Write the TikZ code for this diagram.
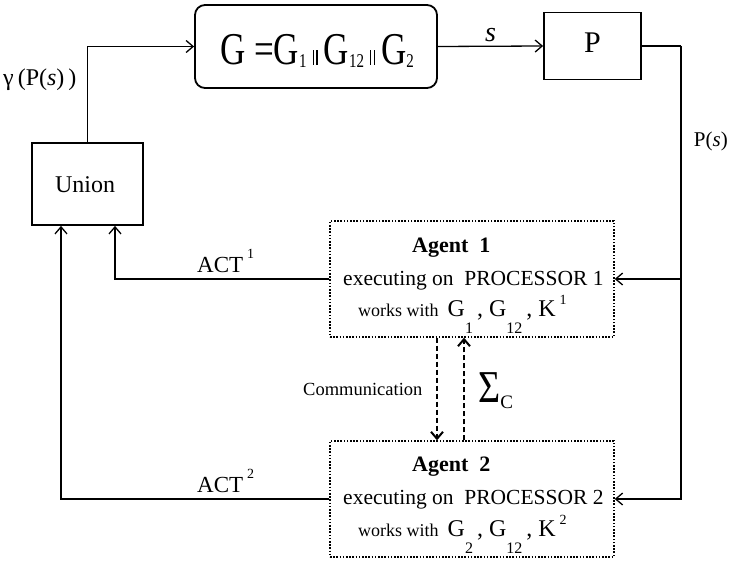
\documentclass[tikz,border=0pt]{standalone}
\usepackage{fontspec}
\setmainfont{Liberation Serif}
\usetikzlibrary{arrows.meta}
\newcommand\fs[1]{\fontsize{#1}{#1}\selectfont}
\newcommand\dn[3]{\raisebox{-#1}{\fs{#2}#3}}
\newcommand\up[3]{\raisebox{#1}{\fs{#2}#3}}
\newcommand\parbar{\hspace{6pt}\rule{1.3pt}{11.5pt}\hspace{2.4pt}\rule{1.3pt}{11.5pt}\hspace{6pt}}
\begin{document}
\begin{tikzpicture}[x=1pt,y=-1pt,
  >={Straight Barb[length=7pt,width=12pt]},
  solidbox/.style={draw,line width=1.8pt,inner sep=0pt},
  agentbox/.style={draw,line width=1.4pt,dash pattern=on 1.6pt off 1.6pt,
                   minimum width=284pt,minimum height=116pt,inner sep=0pt},
  wire/.style={line width=1.3pt},
  commwire/.style={line width=2pt,dash pattern=on 5pt off 3pt},
  txt/.style={inner sep=0pt}]
\useasboundingbox (0,0) rectangle (730,564);

% main blocks
\node[solidbox,rounded corners=10pt,minimum width=242pt,minimum height=83pt] (G) at (316,46.5) {};
\node[txt,anchor=base] (Gt) at (317,65)
  {\scalebox{1}[1.3]{\fs{35}G =G\dn{2pt}{15}{1}\parbar G\dn{2pt}{15}{12}\parbar G\dn{2pt}{15}{2}}};
\node[solidbox,minimum width=97pt,minimum height=67pt] (P) at (592.5,46) {};
\node[txt,anchor=base] (Pt) at (592.5,53) {\fs{30}P};
\node[solidbox,minimum width=111pt,minimum height=82pt] (U) at (87.5,184) {};
\node[txt,anchor=base] (Ut) at (85,192) {\fs{24}Union};

% agents
\node[agentbox] (A1) at (472,279) {};
\node[agentbox] (A2) at (472,499) {};

\node[txt,anchor=base west] (a1a) at (412,252) {\fs{22}\bfseries Agent\ \ 1};
\node[txt,anchor=base west] (a1b) at (343,285) {\fs{21.5}executing on\ \ PROCESSOR 1};
\node[txt,anchor=base west] (a1c) at (358,316)
  {\fs{18}works with\ \ \fs{24}G\dn{17pt}{16}{1}\,, G\dn{17pt}{16}{12}\,, K\,\up{12pt}{14}{1}};

\node[txt,anchor=base west] (a2a) at (412,471) {\fs{22}\bfseries Agent\ \ 2};
\node[txt,anchor=base west] (a2b) at (343,504) {\fs{21.5}executing on\ \ PROCESSOR 2};
\node[txt,anchor=base west] (a2c) at (358,536)
  {\fs{18}works with\ \ \fs{24}G\dn{17pt}{16}{2}\,, G\dn{17pt}{16}{12}\,, K\,\up{12pt}{14}{2}};

% connectors
\draw[wire,->] (U.north) |- (G.west);
\draw[wire,->] (G.east) -- (P.west);
\coordinate (rt) at (681,46);
\draw[wire] (P.east) -- (rt);
\draw[wire,->] (rt) |- (A1.east);
\draw[wire,->] (rt) |- (A2.east);
\draw[wire,->] (A1.west) -| ([xshift=27.5pt]U.south);
\draw[wire,->] (A2.west) -| ([xshift=-26.5pt]U.south);
\draw[commwire,->] ([xshift=-35pt]A1.south) -- ([xshift=-35pt]A2.north);
\draw[commwire,->] ([xshift=-8pt]A2.north) -- ([xshift=-8pt]A1.south);

% labels
\node[txt,anchor=base west] (lg) at (3,86) {\fs{24}γ\,(P(\textit{s})\,)};
\node[txt,anchor=base west] (ls) at (485,42) {\fs{28}\textit{s}};
\node[txt,anchor=base east] (lp) at (728,147) {\fs{21}P(\textit{s})};
\node[txt,anchor=base west] (lact1) at (197,272) {\fs{23}ACT\,\up{14pt}{14}{1}};
\node[txt,anchor=base west] (lact2) at (197,492) {\fs{23}ACT\,\up{14pt}{14}{2}};
\node[txt,anchor=base west] (lcom) at (303,395) {\fs{18.5}Communication};
\node[txt,anchor=base west] (lsig) at (478,402)
  {\scalebox{1}[1.2]{\fs{38}Σ}\raisebox{-6pt}{\fs{19}C}};
\end{tikzpicture}
\end{document}
